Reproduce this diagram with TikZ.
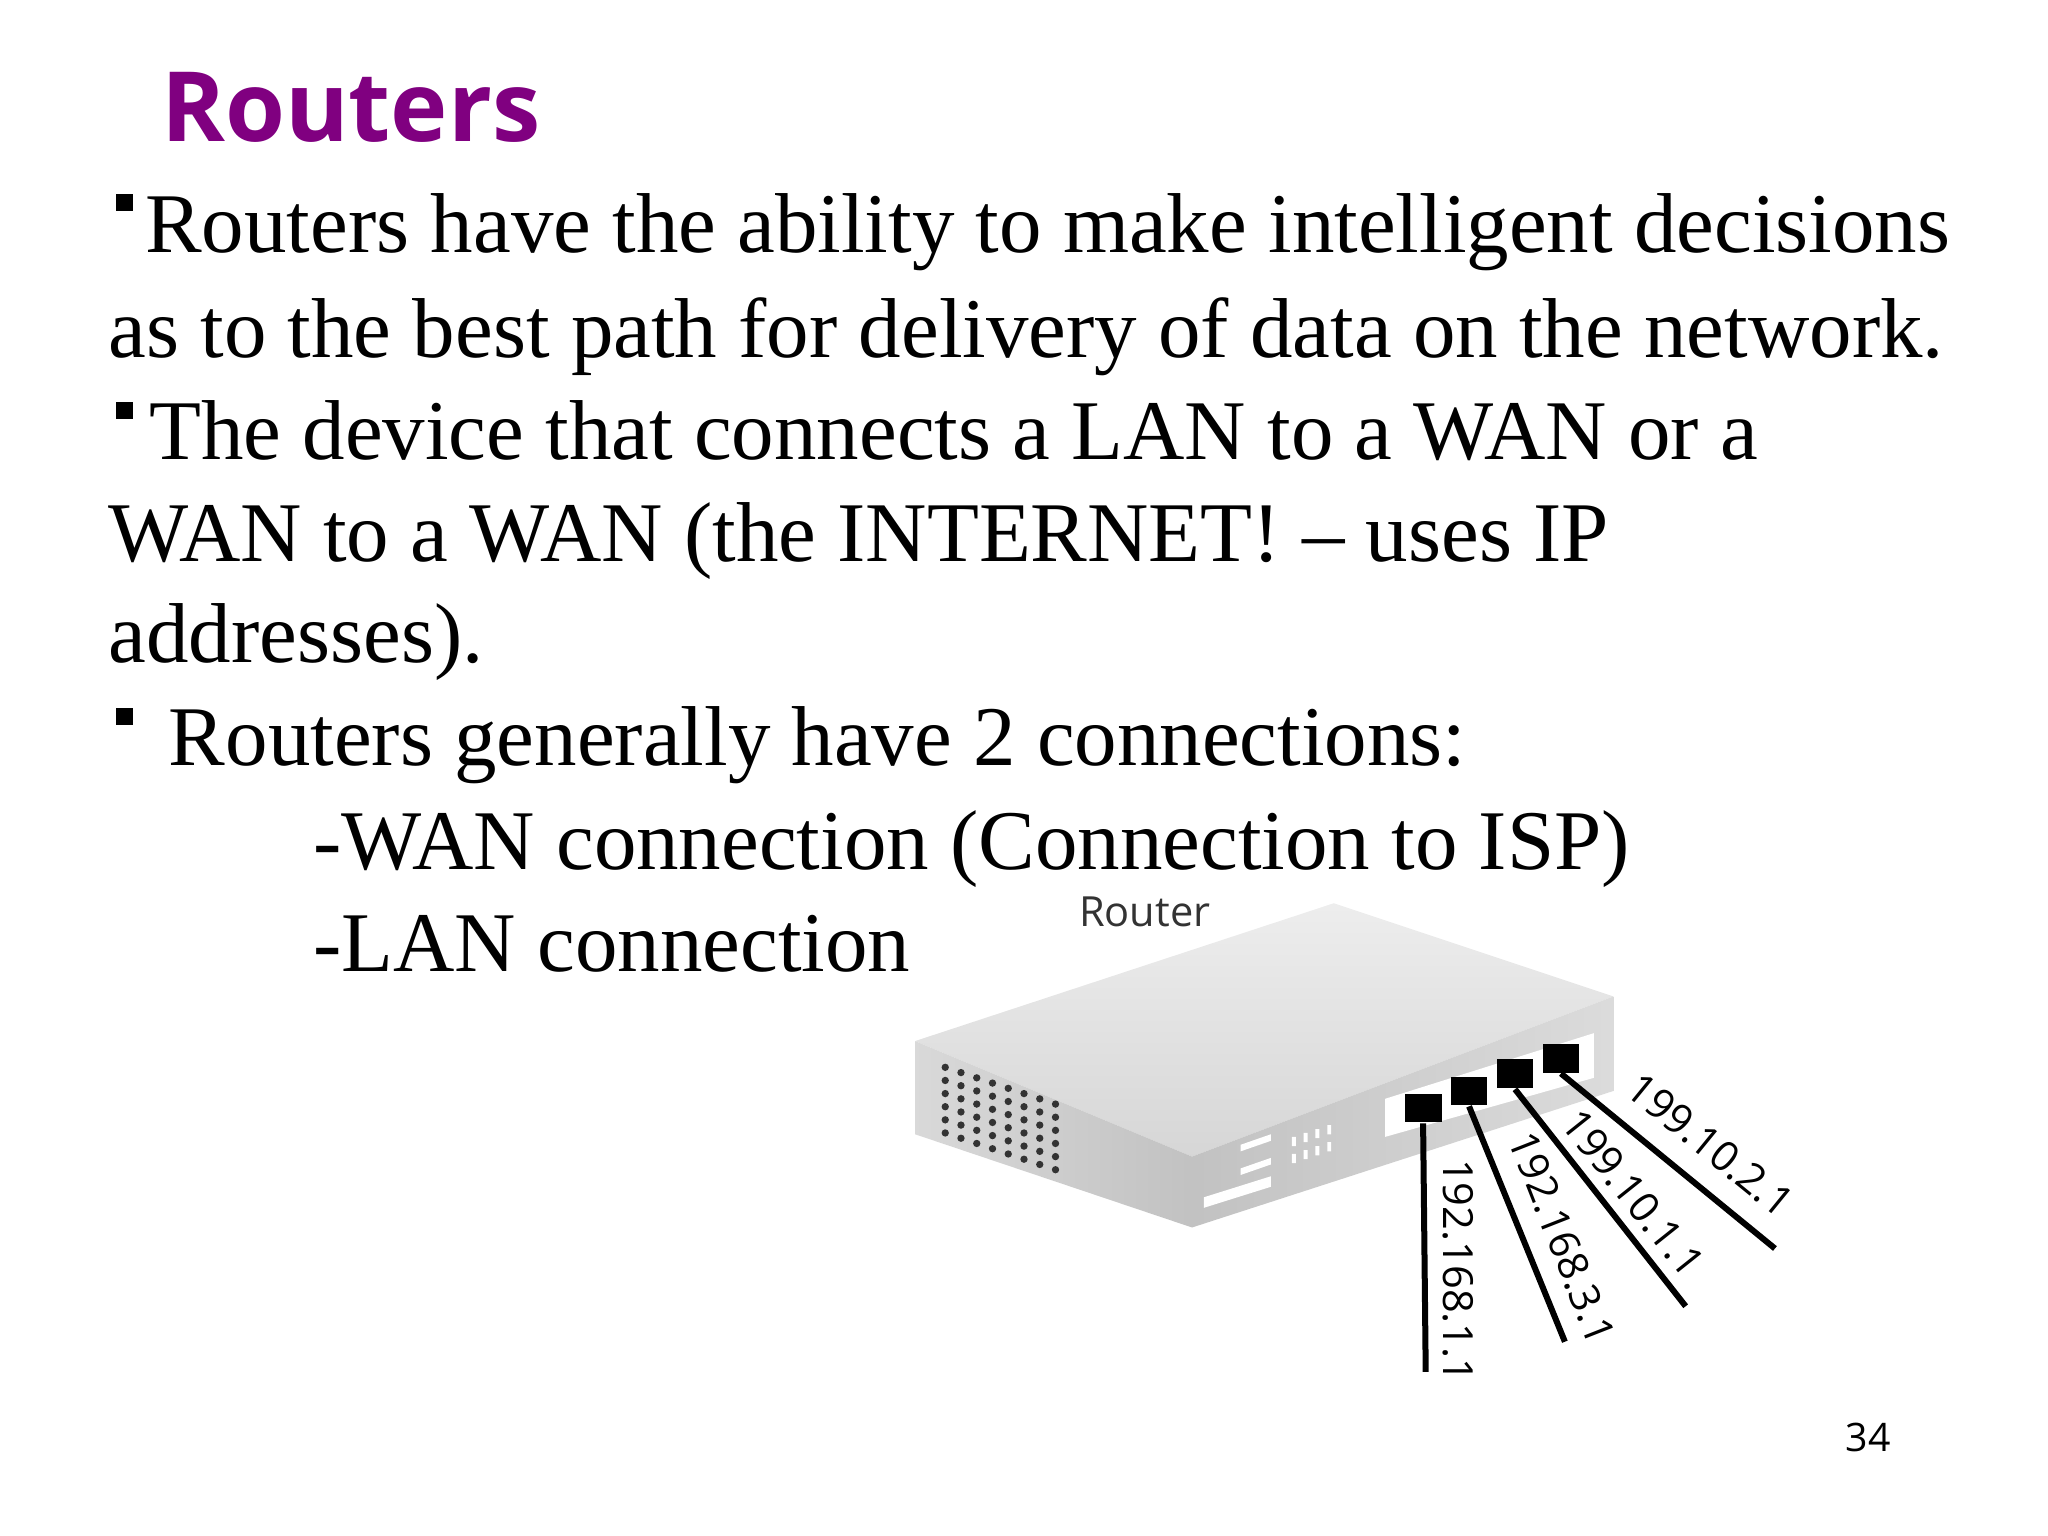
\documentclass[tikz,border=0pt]{standalone}
\usepackage{fontspec}
\setmainfont{Liberation Serif}
\newfontfamily\osans{Open Sans}
\definecolor{titlepurple}{RGB}{128,0,128}
\tikzset{
  body/.style={anchor=base west, inner sep=0pt, font=\fontsize{18.4}{22}\selectfont},
  ip/.style={inner sep=0pt, font=\osans\fontsize{9}{10}\selectfont},
  cable/.style={line width=1.3pt, black},
  port/.style={fill=black, minimum width=0.28cm, minimum height=0.22cm, inner sep=0pt}
}
\begin{document}
\begin{tikzpicture}[x=0.01cm,y=-0.01cm]
\useasboundingbox (0,0) rectangle (1560,1170);
% title
\node [anchor=base west, inner sep=0pt, text=titlepurple, font=\osans\bfseries\fontsize{21}{24}\selectfont] (title) at (122,108) {Routers};
% text lines
\node [body] (l1) at (110,192) {Routers have the ability to make intelligent decisions};
\node [body] (l2) at (82,272) {as to the best path for delivery of data on the network.};
\node [body] (l3) at (113,350) {The device that connects a LAN to a WAN or a};
\node [body] (l4) at (82,428) {WAN to a WAN (the INTERNET! -- uses IP};
\node [body] (l5) at (82,505) {addresses).};
\node [body] (l6) at (128,583) {Routers generally have 2 connections:};
\node [body] (l7) at (238,662) {-WAN connection (Connection to ISP)};
\node [body] (l8) at (238,740) {-LAN connection};
\fill (88,148) rectangle (101,161);
\fill (88,306) rectangle (101,319);
\fill (88,539) rectangle (101,552);
% router body
\shade [top color=gray!14, bottom color=gray!32]
  (697,793) -- (1016,688) -- (1229,759) -- (908,881) -- cycle;
\shade [left color=gray!30, right color=gray!48] (697,793) -- (908,881) -- (908,935) -- (697,864) -- cycle;
\shade [left color=gray!48, right color=gray!28] (908,881) -- (1229,759) -- (1229,831) -- (908,935) -- cycle;
% vents
\foreach \r in {0,...,5}
  \foreach \c in {0,...,7}
    \fill [black!80] (720+\c*12,813+\r*10+\c*4) circle (2.8);
% front details
\fill [white] (945,872) -- (968,864) -- (968,869) -- (945,877) -- cycle;
\fill [white] (945,890) -- (968,882) -- (968,887) -- (945,895) -- cycle;
\fill [white] (917,912) -- (968,896) -- (968,904) -- (917,920) -- cycle;
\foreach \c in {0,...,3}
  \fill [white] (984+\c*9,866-\c*3) rectangle +(3,7) (984+\c*9,879-\c*3) rectangle +(3,7);
% port panel
\fill [white] (1055,837) -- (1214,787) -- (1214,821) -- (1055,866) -- cycle;
\node [port] (p1) at (1084,844) {};
\node [port] (p2) at (1119,831) {};
\node [port] (p3) at (1154,818) {};
\node [port] (p4) at (1189,806) {};
\node [anchor=base, inner sep=0pt, font=\osans\fontsize{9}{10}\selectfont, text=black!80] (rlabel) at (872,706) {Router};
% cables
\coordinate (e1) at (1086,1045);
\coordinate (e2) at (1192,1022);
\coordinate (e3) at (1284,995);
\coordinate (e4) at (1352,951);
\draw [cable] (p1.south) -- (e1);
\draw [cable] (p2.south) -- (e2);
\draw [cable] (p3.south) -- (e3);
\draw [cable] (p4.south) -- (e4);
\node [ip, rotate=-90] (ip1) at (1111,968) {192.168.1.1};
\node [ip, rotate=-68.6] (ip2) at (1190,943) {192.168.3.1};
\node [ip, rotate=-51.4] (ip3) at (1244,909) {199.10.1.1};
\node [ip, rotate=-39.2] (ip4) at (1303,872) {199.10.2.1};
% page number
\node [anchor=base, inner sep=0pt, font=\osans\fontsize{8.5}{10}\selectfont] (page) at (1423,1106) {34};
\end{tikzpicture}
\end{document}
